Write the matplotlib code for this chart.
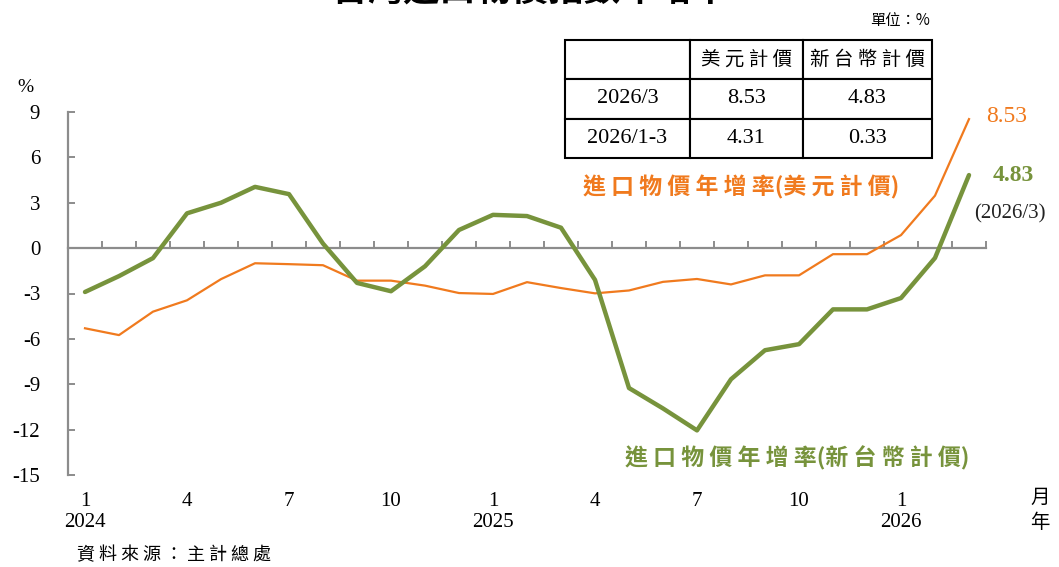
import numpy as np
import matplotlib.pyplot as plt

plt.rcParams['font.family'] = ['Liberation Serif', 'Noto Sans CJK TC']

# 2024/1 .. 2026/3, 年增率 (%)
months = [f"{y}/{m}" for y in (2024, 2025) for m in range(1, 13)] + ["2026/1", "2026/2", "2026/3"]
usd = [-5.3, -5.75, -4.2, -3.45, -2.05, -1.0, -1.06, -1.13, -2.15, -2.15, -2.48, -2.97,
       -3.03, -2.25, -2.64, -2.99, -2.8, -2.23, -2.04, -2.4, -1.8, -1.8, -0.4, -0.4,
       0.86, 3.47, 8.53]
twd = [-2.9, -1.85, -0.66, 2.3, 3.0, 4.05, 3.57, 0.3, -2.3, -2.85, -1.2, 1.2,
       2.2, 2.12, 1.35, -2.1, -9.25, -10.6, -12.05, -8.67, -6.75, -6.35, -4.05, -4.05,
       -3.3, -0.65, 4.83]

xtick_pos = [0, 3, 6, 9, 12, 15, 18, 21, 24]
xtick_labels = ["1\n2024", "4", "7", "10", "1\n2025", "4", "7", "10", "1\n2026"]
yticks = list(range(-15, 10, 3))

table_cols = ["", "美元計價", "新台幣計價"]
table_rows = [["2026/3", "8.53", "4.83"],
              ["2026/1-3", "4.31", "0.33"]]

orange = '#F07A1E'
green = '#77933C'
gray = '#8C8C8C'
cjk = ['Noto Sans CJK TC']


def spaced(s):
    # 中文字之間加空白, 模仿原圖的字距
    out = ""
    for i, ch in enumerate(s):
        out += ch
        if i < len(s) - 1 and ch not in "()：" and s[i+1] not in "()：":
            out += " "
    return out


fig = plt.figure(figsize=(10.59, 5.67), dpi=100)
ax = fig.add_axes([68/1059, 1-475/567, 918/1059, 363/567])

x = np.arange(len(months))
ax.plot(x, usd, color=orange, lw=1.6, zorder=3, solid_joinstyle='round')
ax.plot(x, twd, color=green, lw=3.2, zorder=4, solid_joinstyle='round', solid_capstyle='round')

ax.set_xlim(-0.5, len(months) - 0.5)
ax.set_ylim(-15, 9)

for s in ('top', 'right'):
    ax.spines[s].set_visible(False)
ax.spines['left'].set_color(gray)
ax.spines['left'].set_linewidth(1.6)
ax.spines['bottom'].set_position(('data', 0))
ax.spines['bottom'].set_color(gray)
ax.spines['bottom'].set_linewidth(1.6)

ax.set_xticks(np.arange(0.5, len(months), 1))
ax.tick_params(axis='x', direction='in', length=5, width=1.4, color=gray, labelbottom=False)
ax.set_yticks(yticks)
ax.set_yticklabels([str(v) for v in yticks])
ax.tick_params(axis='y', direction='in', length=5, width=1.4, color=gray, pad=20, labelsize=15)

sec = ax.secondary_xaxis('bottom')
sec.spines['bottom'].set_visible(False)
sec.set_xticks(xtick_pos)
sec.set_xticklabels(xtick_labels, linespacing=1.15)
sec.tick_params(length=0, pad=12, labelsize=15)

# end-point labels
ax.annotate(f"{usd[-1]:.2f}", (x[-1], usd[-1]), xytext=(12, 2), textcoords='offset points',
            ha='left', va='center', fontsize=17, color=orange)
ax.annotate(f"{twd[-1]:.2f}", (x[-1], twd[-1]), xytext=(17, 0), textcoords='offset points',
            ha='left', va='center', fontsize=17, color=green, fontweight='bold')
ax.annotate("(2026/3)", (x[-1], twd[-1]), xytext=(4, -28), textcoords='offset points',
            ha='left', va='center', fontsize=15, color='#222222')

fig.text(741/1059, 1-187/567, spaced("進口物價年增率(美元計價)"), family=cjk, fontsize=16.5,
         fontweight='bold', color=orange, ha='center', va='center')
fig.text(797/1059, 1-458/567, spaced("進口物價年增率(新台幣計價)"), family=cjk, fontsize=16.5,
         fontweight='bold', color=green, ha='center', va='center')

fig.text(25/1059, 1-87/567, "%", fontsize=14, ha='center', va='center')
fig.text(1040/1059, 1-497/567, "月", family=cjk, fontsize=14, ha='center', va='center')
fig.text(1040/1059, 1-523/567, "年", family=cjk, fontsize=14, ha='center', va='center')
fig.text(77/1059, 1-555/567, spaced("資料來源") + " ： " + spaced("主計總處"), family=cjk,
         fontsize=13, ha='left', va='center')
fig.text(930/1059, 1-20/567, "單位：%", family=cjk, fontsize=11, ha='right', va='center')
fig.text(530/1059, 1-9/567, "台灣進口物價指數年增率", family=cjk, fontsize=26,
         fontweight='bold', ha='center', va='bottom')

# summary table
tax = fig.add_axes([565/1059, 1-158/567, 367/1059, 118/567])
tax.axis('off')
tbl = tax.table(cellText=[table_cols] + table_rows, cellLoc='center',
                colWidths=[125, 113, 129], bbox=[0, 0, 1, 1])
tbl.auto_set_font_size(False)
for (r, c), cell in tbl.get_celld().items():
    cell.set_linewidth(1.5)
    t = cell.get_text()
    if r == 0:
        t.set_fontfamily(cjk)
        t.set_fontsize(14)
        t.set_text(spaced(t.get_text()))
    else:
        t.set_fontsize(16)

fig.savefig("out.png", dpi=100)
